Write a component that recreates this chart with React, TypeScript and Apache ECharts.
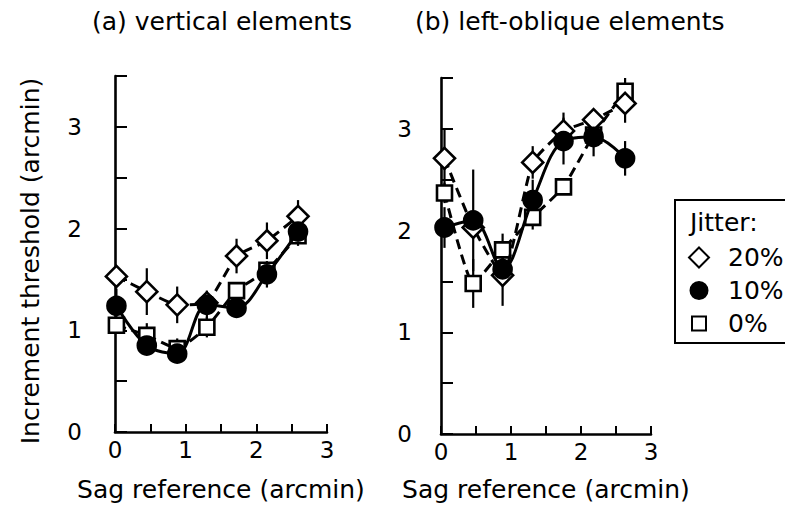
import React, { useEffect, useRef } from "react";
import * as echarts from "echarts";

// x positions (sag reference, arcmin)
const xA = [0.02, 0.45, 0.88, 1.3, 1.72, 2.15, 2.59];
const xB = [0.05, 0.46, 0.88, 1.31, 1.75, 2.18, 2.63];

// panel (a) vertical elements
const a20 = [1.53, 1.38, 1.25, 1.27, 1.73, 1.88, 2.12];
const a10 = [1.24, 0.85, 0.77, 1.25, 1.22, 1.55, 1.97];
const a0 = [1.05, 0.95, 0.82, 1.03, 1.39, 1.59, 1.93];
const a20err = [0.08, 0.23, 0.18, 0.1, 0.17, 0.18, 0.16];
const a10err = [0.17, 0.08, 0.08, 0.14, 0.08, 0.13, 0.1];
const a0err = [0.06, 0.12, 0.1, 0.1, 0.08, 0.08, 0.1];

// panel (b) left-oblique elements
const b20 = [2.71, 2.03, 1.56, 2.67, 2.98, 3.09, 3.25];
const b10 = [2.03, 2.1, 1.62, 2.3, 2.88, 2.92, 2.71];
const b0 = [2.37, 1.48, 1.81, 2.13, 2.43, 2.94, 3.37];
const b20err = [0.29, 0.1, 0.3, 0.16, 0.18, 0.1, 0.19];
const b10err = [0.2, 0.5, 0.1, 0.2, 0.23, 0.19, 0.17];
const b0err = [0.1, 0.24, 0.16, 0.12, 0.08, 0.1, 0.13];

const legendNames = ["20%", "10%", "0%"];
const titles = ["(a) vertical elements", "(b) left-oblique elements"];
const yTicks = { min: 0, max: 3.5, step: 0.5 };
const xTicks = { min: 0, max: 3, step: 0.5 };

const FONT = "DejaVu Sans";

function pairs(xs: number[], ys: number[]) {
  return xs.map((x, i) => [x, ys[i]]);
}
function triples(xs: number[], ys: number[], es: number[]) {
  return xs.map((x, i) => [x, ys[i], es[i]]);
}

const kinds: Record<string, any> = {
  "20%": { symbol: "diamond", symbolSize: 21, fill: "#fff", dashed: true, smooth: 0.15, z: 3 },
  "10%": { symbol: "circle", symbolSize: 18, fill: "#000", dashed: false, smooth: 0.35, z: 4 },
  "0%": { symbol: "rect", symbolSize: 15, fill: "#fff", dashed: true, smooth: 0.15, z: 2 },
};

function lineSeries(name: string, xs: number[], ys: number[], idx: number) {
  const k = kinds[name];
  return {
    type: "line",
    name,
    xAxisIndex: idx,
    yAxisIndex: idx,
    data: pairs(xs, ys),
    symbol: k.symbol,
    symbolSize: k.symbolSize,
    smooth: k.smooth,
    z: k.z,
    lineStyle: { color: "#000", width: 3, type: k.dashed ? [10, 6] : "solid" },
    itemStyle: { color: k.fill, borderColor: "#000", borderWidth: 2.6, opacity: 1 },
    emphasis: { disabled: true },
  };
}

function errSeries(xs: number[], ys: number[], es: number[], idx: number) {
  return {
    type: "custom",
    xAxisIndex: idx,
    yAxisIndex: idx,
    z: 1,
    data: triples(xs, ys, es),
    renderItem: (params: any, api: any) => {
      const x = api.value(0);
      const y = api.value(1);
      const e = api.value(2);
      const p1 = api.coord([x, y - e]);
      const p2 = api.coord([x, y + e]);
      return {
        type: "line",
        shape: { x1: p1[0], y1: p1[1], x2: p2[0], y2: p2[1] },
        style: { stroke: "#000", lineWidth: 2.2 },
      };
    },
  };
}

function intLabel(v: number) {
  return Math.abs(v - Math.round(v)) < 1e-6 ? String(Math.round(v)) : "";
}

function xAxis(idx: number) {
  return {
    type: "value",
    gridIndex: idx,
    min: xTicks.min,
    max: xTicks.max,
    interval: xTicks.step,
    name: "Sag reference (arcmin)",
    nameLocation: "middle",
    nameGap: idx === 0 ? 45 : 43,
    nameTextStyle: { fontFamily: FONT, fontSize: 25, color: "#000" },
    axisLine: { show: true, lineStyle: { color: "#000", width: 2.6 } },
    axisTick: { show: true, inside: true, length: 8, lineStyle: { color: "#000", width: 2 } },
    axisLabel: { formatter: intLabel, fontFamily: FONT, fontSize: 23, color: "#000", margin: 6 },
    splitLine: { show: false },
  };
}

function yAxis(idx: number) {
  return {
    type: "value",
    gridIndex: idx,
    min: yTicks.min,
    max: yTicks.max,
    interval: yTicks.step,
    offset: idx === 0 ? 28 : 24,
    name: idx === 0 ? "Increment threshold (arcmin)" : "",
    nameLocation: "middle",
    nameGap: 44,
    nameTextStyle: { fontFamily: FONT, fontSize: 25, color: "#000", padding: [0, 14, 0, 0] },
    axisLine: { show: true, lineStyle: { color: "#000", width: 2.6 } },
    axisTick: { show: true, inside: true, length: 12, lineStyle: { color: "#000", width: 2 } },
    axisLabel: { formatter: intLabel, fontFamily: FONT, fontSize: 23, color: "#000", margin: 5 },
    splitLine: { show: false },
  };
}

export default function App() {
  const ref = useRef<HTMLDivElement>(null);
  useEffect(() => {
    if (!ref.current) return;
    const chart = echarts.init(ref.current, null, { renderer: "svg" });
    const option: any = {
      animation: false,
      backgroundColor: "#fff",
      title: [
        {
          text: titles[0],
          left: 92,
          top: 9,
          padding: 0,
          textStyle: { fontFamily: FONT, fontSize: 25, fontWeight: "normal", color: "#000" },
        },
        {
          text: titles[1],
          left: 415,
          top: 9,
          padding: 0,
          textStyle: { fontFamily: FONT, fontSize: 25, fontWeight: "normal", color: "#000" },
        },
      ],
      grid: [
        { left: 115, top: 76, width: 212, height: 357 },
        { left: 441, top: 78, width: 210, height: 357 },
      ],
      xAxis: [xAxis(0), xAxis(1)],
      yAxis: [yAxis(0), yAxis(1)],
      legend: {
        orient: "vertical",
        left: 688,
        top: 245,
        padding: 0,
        itemGap: 8,
        itemWidth: 20,
        itemHeight: 20,
        selectedMode: false,
        textStyle: { fontFamily: FONT, fontSize: 25, color: "#000", padding: [0, 0, 0, 14] },
        data: [
          { name: legendNames[0], icon: "diamond" },
          { name: legendNames[1], icon: "path://M0,0M20,20M18.5,10a8.5,8.5 0 1,1 -17,0a8.5,8.5 0 1,1 17,0z" },
          { name: legendNames[2], icon: "path://M0,0M20,20M3,3h14v14h-14z" },
        ],
      },
      graphic: [
        {
          type: "rect",
          shape: { x: 675, y: 200, width: 140, height: 143 },
          style: { fill: "none", stroke: "#000", lineWidth: 2 },
        },
        {
          type: "text",
          x: 690,
          y: 222,
          style: { text: "Jitter:", fill: "#000", font: `25px '${FONT}'`, verticalAlign: "middle" },
        },
      ],
      series: [
        errSeries(xA, a0, a0err, 0),
        errSeries(xA, a20, a20err, 0),
        errSeries(xA, a10, a10err, 0),
        lineSeries("0%", xA, a0, 0),
        lineSeries("20%", xA, a20, 0),
        lineSeries("10%", xA, a10, 0),
        errSeries(xB, b0, b0err, 1),
        errSeries(xB, b20, b20err, 1),
        errSeries(xB, b10, b10err, 1),
        lineSeries("0%", xB, b0, 1),
        lineSeries("20%", xB, b20, 1),
        lineSeries("10%", xB, b10, 1),
      ],
    };
    chart.setOption(option);
    return () => chart.dispose();
  }, []);
  return (
    <div
      ref={ref}
      style={{ position: "fixed", left: 0, top: 0, width: 785, height: 507, background: "#fff" }}
    />
  );
}
